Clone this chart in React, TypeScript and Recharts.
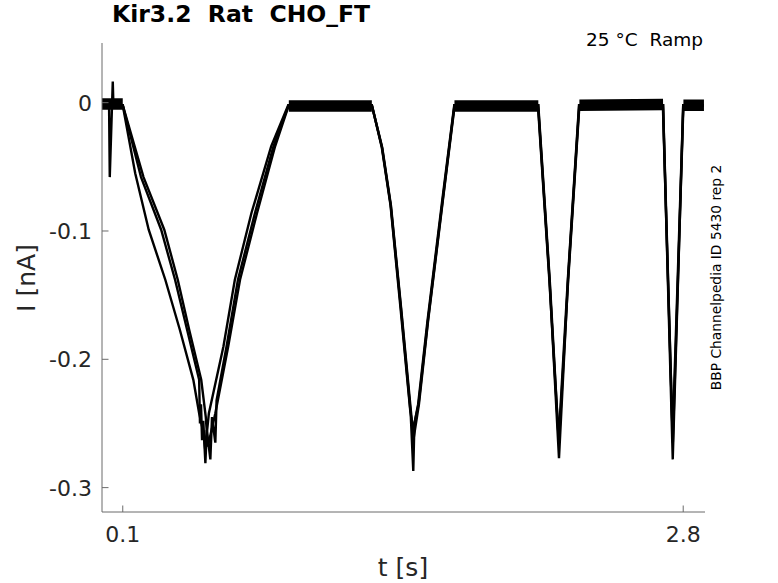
import React from "react";
import { ComposedChart, Line, XAxis, YAxis } from "recharts";

// time in s, current in nA
const xTicks = [0.1, 2.8];
const yTicks = [0, -0.1, -0.2, -0.3];

const sweepA = [
  { t: 0, i: -0.001 }, { t: 0.1, i: -0.002 }, { t: 0.2, i: -0.058 }, { t: 0.3, i: -0.099 },
  { t: 0.365, i: -0.138 }, { t: 0.42, i: -0.177 }, { t: 0.478, i: -0.216 }, { t: 0.5, i: -0.245 },
  { t: 0.51, i: -0.268 }, { t: 0.546, i: -0.242 }, { t: 0.608, i: -0.19 }, { t: 0.665, i: -0.138 },
  { t: 0.747, i: -0.086 }, { t: 0.834, i: -0.034 }, { t: 0.9, i: -0.002 }, { t: 1.3, i: -0.002 },
  { t: 1.35, i: -0.035 }, { t: 1.392, i: -0.08 }, { t: 1.441, i: -0.16 }, { t: 1.488, i: -0.24 },
  { t: 1.501, i: -0.262 }, { t: 1.527, i: -0.235 }, { t: 1.571, i: -0.17 }, { t: 1.643, i: -0.075 },
  { t: 1.699, i: -0.002 }, { t: 2.102, i: -0.002 }, { t: 2.157, i: -0.138 }, { t: 2.201, i: -0.265 },
  { t: 2.246, i: -0.138 }, { t: 2.3, i: -0.002 }, { t: 2.703, i: -0.002 }, { t: 2.75, i: -0.265 },
  { t: 2.801, i: -0.002 }, { t: 2.9, i: -0.002 },
];

const sweepB = [
  { t: 0, i: -0.002 }, { t: 0.1, i: -0.002 }, { t: 0.16, i: -0.055 }, { t: 0.225, i: -0.099 },
  { t: 0.305, i: -0.138 }, { t: 0.375, i: -0.177 }, { t: 0.44, i: -0.216 }, { t: 0.468, i: -0.242 },
  { t: 0.49, i: -0.258 }, { t: 0.497, i: -0.27 }, { t: 0.515, i: -0.242 }, { t: 0.585, i: -0.19 },
  { t: 0.64, i: -0.138 }, { t: 0.72, i: -0.086 }, { t: 0.815, i: -0.034 }, { t: 0.897, i: -0.002 },
  { t: 1.3, i: -0.002 }, { t: 1.348, i: -0.035 }, { t: 1.39, i: -0.08 }, { t: 1.438, i: -0.16 },
  { t: 1.485, i: -0.24 }, { t: 1.499, i: -0.255 }, { t: 1.523, i: -0.235 }, { t: 1.568, i: -0.17 },
  { t: 1.64, i: -0.075 }, { t: 1.697, i: -0.002 }, { t: 2.1, i: -0.002 }, { t: 2.155, i: -0.138 },
  { t: 2.2, i: -0.262 }, { t: 2.244, i: -0.138 }, { t: 2.298, i: -0.002 }, { t: 2.702, i: -0.002 },
  { t: 2.749, i: -0.26 }, { t: 2.8, i: -0.002 }, { t: 2.9, i: -0.002 },
];

const sweepC = [
  { t: 0, i: -0.002 }, { t: 0.034, i: -0.002 }, { t: 0.0374, i: -0.058 }, { t: 0.0519, i: 0.0164 },
  { t: 0.055, i: -0.002 }, { t: 0.1, i: -0.002 }, { t: 0.188, i: -0.058 }, { t: 0.285, i: -0.099 },
  { t: 0.352, i: -0.138 }, { t: 0.41, i: -0.177 }, { t: 0.468, i: -0.216 }, { t: 0.472, i: -0.25 },
  { t: 0.477, i: -0.235 }, { t: 0.482, i: -0.263 }, { t: 0.488, i: -0.248 }, { t: 0.498, i: -0.281 },
  { t: 0.505, i: -0.255 }, { t: 0.522, i: -0.278 }, { t: 0.53, i: -0.245 }, { t: 0.546, i: -0.265 },
  { t: 0.552, i: -0.232 }, { t: 0.6, i: -0.19 }, { t: 0.655, i: -0.138 }, { t: 0.737, i: -0.086 },
  { t: 0.826, i: -0.034 }, { t: 0.899, i: -0.002 }, { t: 1.3, i: -0.002 }, { t: 1.349, i: -0.035 },
  { t: 1.391, i: -0.08 }, { t: 1.44, i: -0.16 }, { t: 1.487, i: -0.242 }, { t: 1.4996, i: -0.287 },
  { t: 1.505, i: -0.25 }, { t: 1.525, i: -0.235 }, { t: 1.57, i: -0.17 }, { t: 1.642, i: -0.075 },
  { t: 1.698, i: -0.002 }, { t: 2.101, i: -0.002 }, { t: 2.156, i: -0.138 }, { t: 2.2016, i: -0.277 },
  { t: 2.245, i: -0.138 }, { t: 2.299, i: -0.002 }, { t: 2.703, i: -0.002 }, { t: 2.7496, i: -0.278 },
  { t: 2.8, i: -0.002 }, { t: 2.9, i: -0.002 },
];

// holding plateaus, drawn as a thick stroke for the noise band
const plateaus = [
  { t: 0, i: -0.001 }, { t: 0.1, i: -0.001 }, { t: 0.5, i: null },
  { t: 0.9, i: -0.0025 }, { t: 1.3, i: -0.0025 }, { t: 1.5, i: null },
  { t: 1.698, i: -0.0025 }, { t: 2.102, i: -0.0025 }, { t: 2.2, i: null },
  { t: 2.3, i: -0.002 }, { t: 2.703, i: -0.0015 }, { t: 2.75, i: null },
  { t: 2.801, i: -0.002 }, { t: 2.9, i: -0.002 },
];

const sweeps = [sweepA, sweepB, sweepC];

const AXIS = "#6b6b6b";
const TEXT = "#262626";
const FONT = "'DejaVu Sans', sans-serif";

const YTick = (props: any) => {
  const { x, y, payload } = props;
  return (
    <g>
      <line x1={x} x2={x + 6.5} y1={y} y2={y} stroke={AXIS} />
      <text x={x - 10} y={y + 8} textAnchor="end" fontSize={22} fill={TEXT} fontFamily={FONT}>
        {String(payload.value)}
      </text>
    </g>
  );
};

const XTick = (props: any) => {
  const { x, y, payload } = props;
  return (
    <g>
      <line x1={x} x2={x} y1={y} y2={y - 6.5} stroke={AXIS} />
      <text x={x} y={y + 30} textAnchor="middle" fontSize={22} fill={TEXT} fontFamily={FONT}>
        {String(payload.value)}
      </text>
    </g>
  );
};

export default function App() {
  return (
    <div style={{ position: "absolute", left: 0, top: 0, width: 778, height: 583, background: "#fff" }}>
      <ComposedChart width={778} height={583} margin={{ top: 43, right: 73, bottom: 0, left: 0 }}>
        <XAxis
          dataKey="t"
          type="number"
          domain={[0, 2.905]}
          ticks={xTicks}
          allowDataOverflow
          height={71}
          tickSize={0}
          tickMargin={0}
          tickLine={false}
          axisLine={{ stroke: AXIS }}
          tick={<XTick />}
        />
        <YAxis
          type="number"
          domain={[-0.319, 0.0465]}
          ticks={yTicks}
          allowDataOverflow
          width={102}
          tickSize={0}
          tickMargin={0}
          tickLine={false}
          axisLine={{ stroke: AXIS }}
          tick={<YTick />}
        />
        <Line
          data={plateaus}
          dataKey="i"
          type="linear"
          stroke="#000"
          strokeWidth={11.5}
          dot={false}
          activeDot={false}
          connectNulls={false}
          isAnimationActive={false}
        />
        {sweeps.map((s, k) => (
          <Line
            key={k}
            data={s}
            dataKey="i"
            type="linear"
            stroke="#000"
            strokeWidth={2.4}
            dot={false}
            activeDot={false}
            isAnimationActive={false}
          />
        ))}
      </ComposedChart>
      <svg width={778} height={583} style={{ position: "absolute", left: 0, top: 0, pointerEvents: "none" }}>
        <text x={112} y={22} fontSize={23.5} fontWeight="bold" fill="#000" fontFamily={FONT} style={{ whiteSpace: "pre" }}>
          {"Kir3.2  Rat  CHO_FT"}
        </text>
        <text x={703} y={46} textAnchor="end" fontSize={18.5} fill="#000" fontFamily={FONT} style={{ whiteSpace: "pre" }}>
          {"25 °C  Ramp"}
        </text>
        <text
          x={720.5}
          y={277.5}
          transform="rotate(-90, 720.5, 277.5)"
          textAnchor="middle"
          fontSize={13.8}
          fill="#000"
          fontFamily={FONT}
        >
          BBP Channelpedia ID 5430 rep 2
        </text>
        <text x={35} y={278} transform="rotate(-90, 35, 278)" textAnchor="middle" fontSize={25} fill={TEXT} fontFamily={FONT}>
          I [nA]
        </text>
        <text x={403} y={576} textAnchor="middle" fontSize={25} fill={TEXT} fontFamily={FONT}>
          t [s]
        </text>
      </svg>
    </div>
  );
}
